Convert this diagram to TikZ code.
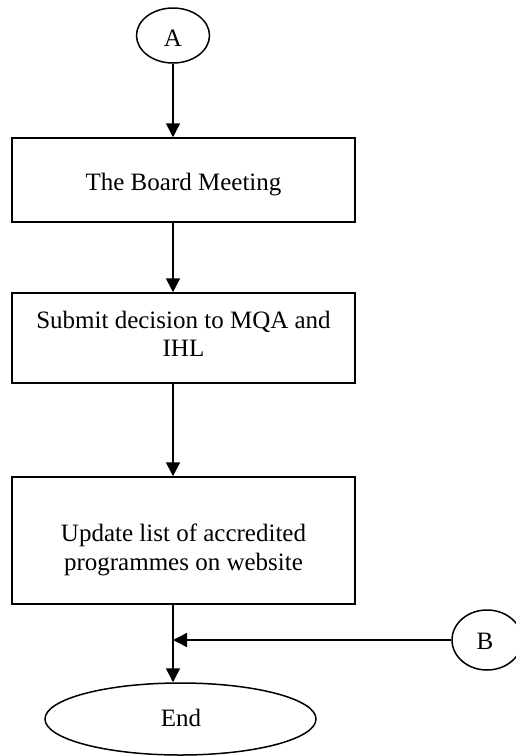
\documentclass[tikz,border=0pt]{standalone}
\usepackage{fontspec}
\setmainfont{Liberation Serif}
\usetikzlibrary{shapes.geometric,arrows.meta}

\begin{document}
\begin{tikzpicture}[x=1pt,y=1pt,yscale=-1,line width=1.5pt,
    every node/.style={font=\fontsize{25}{28.5}\selectfont},
    procbox/.style={draw, rectangle, minimum width=343pt, inner sep=0pt},
    termnode/.style={draw, ellipse, inner sep=0pt},
    arr/.style={-{Triangle[width=14pt,length=14pt]}}]
    \useasboundingbox (0,0) rectangle (515,756);

    %Shape: Ellipse [connector A]
    \node[termnode, minimum width=73pt, minimum height=55pt] (A) at (173,35.5) {};
    % Text Node
    \node (Atxt) at (173,38) {A};

    %Shape: Rectangle [board meeting]
    \node[procbox, minimum height=84pt] (board) at (183.5,180) {};
    % Text Node
    \node (boardtxt) at (183.5,185) {The Board Meeting};

    %Shape: Rectangle [submit decision]
    \node[procbox, minimum height=90pt] (submit) at (183.5,338) {};
    % Text Node
    \node[align=center] (submittxt) at (183.5,334) {Submit decision to MQA and\\IHL};

    %Shape: Rectangle [update list]
    \node[procbox, minimum height=127pt] (update) at (183.5,540.5) {};
    % Text Node
    \node[align=center] (updatetxt) at (183.5,550) {Update list of accredited\\programmes on website};

    %Shape: Ellipse [connector B]
    \node[termnode, minimum width=70pt, minimum height=60pt] (B) at (487,640) {};
    % Text Node
    \node (Btxt) at (485,641) {B};

    %Shape: Ellipse [end]
    \node[termnode, minimum width=271pt, minimum height=72pt] (end) at (180.5,719) {};
    % Text Node
    \node (endtxt) at (181,718) {End};

    \coordinate (join) at (A |- B);

    %Straight Lines
    \draw[arr] (A) -- (A |- board.north);
    \draw[arr] (A |- board.south) -- (A |- submit.north);
    \draw[arr] (A |- submit.south) -- (A |- update.north);
    \draw[arr] (A |- update.south) -- (A |- end.north);
    \draw[arr] (B) -- (join);

\end{tikzpicture}
\end{document}
